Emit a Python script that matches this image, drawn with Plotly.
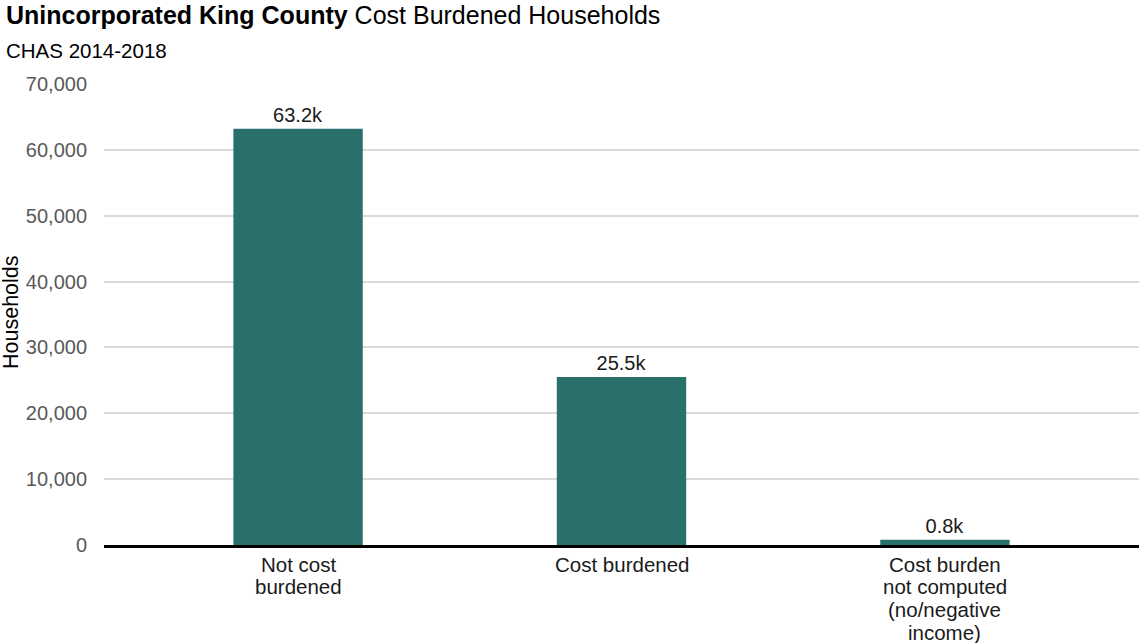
import plotly.graph_objects as go

categories = ["Not cost<br>burdened", "Cost burdened", "Cost burden<br>not computed<br>(no/negative<br>income)"]
households = [63200, 25500, 800]
labels = ["63.2k", "25.5k", "0.8k"]
y_ticks = [0, 10000, 20000, 30000, 40000, 50000, 60000, 70000]
y_tick_text = ["0", "10,000", "20,000", "30,000", "40,000", "50,000", "60,000", "70,000"]

W, H = 1139, 643
L, R, T, B = 104, 0, 83, 98
pw, ph = W - L - R, H - T - B

def px_x(x):
    return (x - L) / pw

def px_y(y):
    return (H - B - y) / ph

FONT = "Liberation Sans, Arial, sans-serif"
YMAX = 70000 * ph / (ph - 1)

fig = go.Figure(go.Bar(
    x=[0, 1, 2], y=households, width=0.4,
    marker=dict(color="#29706B", line=dict(width=0)),
    text=labels, textposition="outside", cliponaxis=False,
    textfont=dict(family=FONT, size=20, color="#1a1a1a"),
    hoverinfo="skip",
))

annotations = [
    dict(text="<b>Unincorporated King County</b> Cost Burdened Households",
         xref="paper", yref="paper", x=px_x(4), y=px_y(15), xanchor="left", yanchor="middle",
         showarrow=False, font=dict(family=FONT, size=25, color="black")),
    dict(text="CHAS 2014-2018",
         xref="paper", yref="paper", x=px_x(4), y=px_y(50), xanchor="left", yanchor="middle",
         showarrow=False, font=dict(family=FONT, size=20.5, color="black")),
    dict(text="Households",
         xref="paper", yref="paper", x=px_x(11), y=px_y(312), xanchor="center", yanchor="middle",
         textangle=-90, showarrow=False, font=dict(family=FONT, size=21.5, color="black")),
]

# category labels under the axis, one line per annotation for tight line spacing
for i, cat in enumerate(categories):
    for j, line in enumerate(cat.split("<br>")):
        annotations.append(dict(
            text=line, xref="x", yref="paper", x=i, y=0, xanchor="center", yanchor="middle",
            yshift=-(19 + 22.7 * j), showarrow=False,
            font=dict(family=FONT, size=20.5, color="#1a1a1a")))

fig.update_layout(
    width=W, height=H,
    margin=dict(l=L, r=R, t=T, b=B, autoexpand=False),
    plot_bgcolor="white", paper_bgcolor="white",
    showlegend=False,
    font=dict(family=FONT),
    xaxis=dict(
        range=[-0.6, 2.6], tickmode="array", tickvals=[0, 1, 2], showticklabels=False,
        showgrid=False, zeroline=False, showline=True, linecolor="black", linewidth=2.5,
        ticks="", automargin=False, fixedrange=True,
    ),
    yaxis=dict(
        range=[0, YMAX], tickmode="array", tickvals=y_ticks, ticktext=y_tick_text,
        showgrid=True, gridcolor="#d9d9d9", gridwidth=1.6, zeroline=False, showline=False,
        ticks="outside", ticklen=12, tickcolor="rgba(0,0,0,0)",
        tickfont=dict(family=FONT, size=20, color="#595959"),
        automargin=False, fixedrange=True,
    ),
    annotations=annotations,
)

fig.write_html("out.html", config={"displayModeBar": False},
               post_script="document.body.style.margin='0';document.body.style.overflow='hidden';")
